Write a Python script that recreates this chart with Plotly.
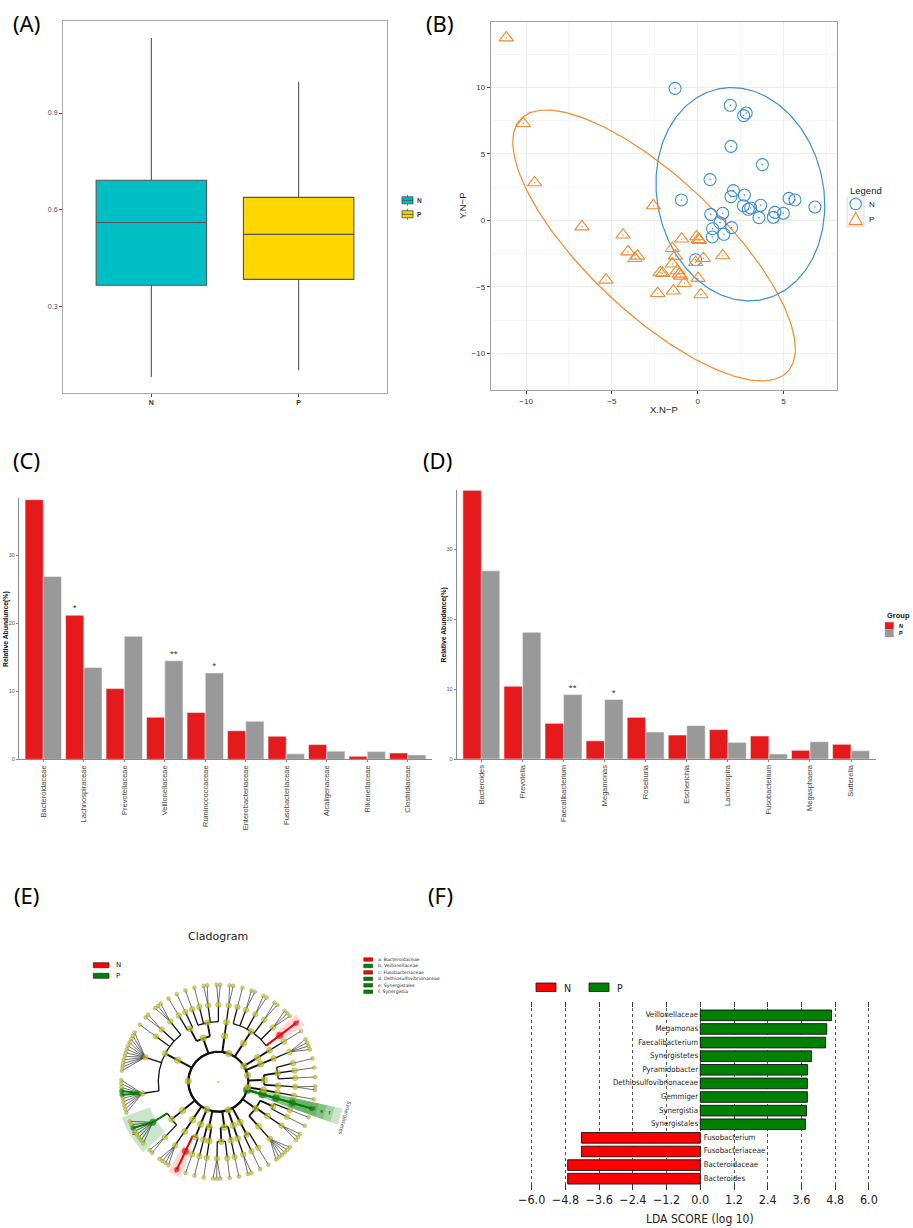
import numpy as np
import plotly.graph_objects as go

W, H = 913, 1228

# ---------------- (A) boxplot ----------------
box_groups = ["N", "P"]
box_lower = [0.080, 0.101]
box_q1 = [0.365, 0.383]
box_median = [0.560, 0.523]
box_q3 = [0.691, 0.638]
box_upper = [1.133, 0.997]

# ---------------- (B) ordination ----------------
pca_N_x = [-1.32, 1.90, 2.68, 2.83, 1.94, 3.77, 0.72, -0.95, 2.08, 1.94, 2.72, 5.32, 5.67, 6.83, 2.66,
           2.95, 3.09, 3.67, 3.57, 4.50, 4.41, 4.99, 0.76, 1.46, 1.30, 0.87, 1.98, 0.85, 1.53, -0.12]
pca_N_y = [9.92, 8.65, 7.87, 8.07, 5.56, 4.19, 3.06, 1.53, 2.23, 1.78, 1.90, 1.65, 1.53, 1.00, 1.10,
           0.83, 0.93, 1.13, 0.20, 0.60, 0.23, 0.53, 0.45, 0.53, -0.18, -0.63, -0.55, -1.25, -1.05, -2.96]
pca_P_x = [-11.15, -10.16, -9.50, -6.74, -4.35, -2.58, -4.06, -3.51, -3.65, -5.34, -2.33, -2.19, -2.04,
           -1.42, -1.48, -1.48, -1.30, -1.18, -1.07, -0.99, -0.78, -0.93, -0.06, 0.04, 0.10, 0.02, 0.19,
           0.33, -0.12, 1.46]
pca_P_y = [13.73, 7.29, 2.83, -0.48, -1.10, 1.10, -2.36, -2.68, -2.86, -4.49, -5.49, -3.93, -3.98,
           -5.31, -3.28, -2.11, -2.68, -3.78, -4.04, -4.19, -4.74, -1.40, -1.23, -1.43, -1.50, -4.36,
           -5.59, -2.86, -3.16, -2.66]

# ---------------- (C) families ----------------
fam_names = ["Bacteroidaceae", "Lachnospiraceae", "Prevotellaceae", "Veillonellaceae", "Ruminococcaceae",
             "Enterobacteriaceae", "Fusobacteriaceae", "Alcaligenaceae", "Rikenellaceae", "Clostridiaceae"]
fam_N = [38.2, 21.2, 10.4, 6.2, 6.9, 4.2, 3.4, 2.16, 0.44, 0.93]
fam_P = [26.9, 13.5, 18.1, 14.5, 12.7, 5.6, 0.8, 1.2, 1.13, 0.64]
fam_sig_N = ["", "*", "", "", "", "", "", "", "", ""]
fam_sig_P = ["", "", "", "**", "*", "", "", "", "", ""]

# ---------------- (D) genera ----------------
gen_names = ["Bacteroides", "Prevotella", "Faecalibacterium", "Megamonas", "Roseburia", "Escherichia",
             "Lachnospira", "Fusobacterium", "Megasphaera", "Sutterella"]
gen_N = [38.4, 10.4, 5.1, 2.6, 5.96, 3.43, 4.2, 3.29, 1.24, 2.1]
gen_P = [26.9, 18.1, 9.2, 8.5, 3.86, 4.77, 2.38, 0.72, 2.48, 1.19]
gen_sig_N = ["", "", "", "", "", "", "", "", "", ""]
gen_sig_P = ["", "", "**", "*", "", "", "", "", "", ""]

# ---------------- (F) LDA ----------------
lda_taxa = ["Veillonellaceae", "Megamonas", "Faecalibacterium", "Synergistetes", "Pyramidobacter",
            "Dethiosulfovibrionaceae", "Gemmiger", "Synergistia", "Synergistales", "Fusobacterium",
            "Fusobacteriaceae", "Bacteroidaceae", "Bacteroides"]
lda_score = [4.67, 4.50, 4.46, 3.96, 3.82, 3.81, 3.81, 3.78, 3.74, -4.23, -4.23, -4.72, -4.72]

# ---------------- (E) cladogram taxonomy ----------------
clado_tree = [
    ("Synergistetes", [("Synergistia", [("Synergistales", [("Dethiosulfovibrionaceae", ["Pyramidobacter"])])])]),
    ("Tenericutes", [("Mollicutes", [("Anaeroplasmatales", [("Anaeroplasmataceae", ["Anaeroplasma"])])])]),
    ("Actinobacteria", [
        ("Actinobacteria", [("Bifidobacteriales", [("Bifidobacteriaceae", ["Bifidobacterium", "Scardovia"])]),
                            ("Actinomycetales", [("Actinomycetaceae", ["Actinomyces"]),
                                                 ("Corynebacteriaceae", ["Corynebacterium"]),
                                                 ("Micrococcaceae", ["Rothia"])])]),
        ("Coriobacteriia", [("Coriobacteriales", [("Coriobacteriaceae", ["Collinsella", "Eggerthella",
                                                                          "Adlercreutzia", "Slackia"])])])]),
    ("Verrucomicrobia", [("Verrucomicrobiae", [("Verrucomicrobiales", [("Verrucomicrobiaceae", ["Akkermansia"])])])]),
    ("Bacteroidetes", [
        ("Bacteroidia", [("Bacteroidales", [("Bacteroidaceae", ["Bacteroides"]),
                                            ("Porphyromonadaceae", ["Parabacteroides", "Porphyromonas", "Tannerella"]),
                                            ("Prevotellaceae", ["Prevotella", "Paraprevotella"]),
                                            ("Rikenellaceae", ["Alistipes", "Rikenella"]),
                                            ("Odoribacteraceae", ["Odoribacter", "Butyricimonas"]),
                                            ("Barnesiellaceae", ["Barnesiella"])])]),
        ("Flavobacteriia", [("Flavobacteriales", [("Flavobacteriaceae", ["Flavobacterium", "Capnocytophaga"])])])]),
    ("Firmicutes", [
        ("Bacilli", [("Lactobacillales", [("Streptococcaceae", ["Streptococcus", "Lactococcus"]),
                                          ("Lactobacillaceae", ["Lactobacillus", "Pediococcus"]),
                                          ("Enterococcaceae", ["Enterococcus"]),
                                          ("Carnobacteriaceae", ["Granulicatella"])]),
                     ("Bacillales", [("Staphylococcaceae", ["Staphylococcus"]), ("Gemellaceae", ["Gemella"])])]),
        ("Clostridia", [("Clostridiales", [
            ("Clostridiaceae", ["Clostridium", "SMB53", "Sarcina"]),
            ("Peptostreptococcaceae", ["Peptostreptococcus", "Romboutsia"]),
            ("Christensenellaceae", ["Christensenella"]),
            ("Lachnospiraceae", ["Blautia", "Coprococcus", "Dorea", "Roseburia", "Lachnospira", "Anaerostipes",
                                 "Butyrivibrio", "Lachnoclostridium", "Fusicatenibacter", "Tyzzerella",
                                 "Moryella", "Shuttleworthia"]),
            ("Ruminococcaceae", ["Ruminococcus", "Oscillospira", "Subdoligranulum", "Faecalibacterium", "Gemmiger",
                                 "Anaerotruncus", "Butyricicoccus", "Ruminiclostridium", "Flavonifractor",
                                 "Anaerofilum"])])]),
        ("Negativicutes", [("Selenomonadales", [
            ("Veillonellaceae", ["Veillonella", "Megasphaera", "Megamonas", "Dialister", "Mitsuokella",
                                 "Allisonella", "Anaerovibrio", "Selenomonas"]),
            ("Acidaminococcaceae", ["Phascolarctobacterium", "Acidaminococcus"])])]),
        ("Erysipelotrichia", [("Erysipelotrichales", [("Erysipelotrichaceae", ["Holdemania", "Catenibacterium",
                                                                                "Coprobacillus", "Turicibacter"])])])]),
    ("Fusobacteria", [("Fusobacteriia", [("Fusobacteriales", [("Fusobacteriaceae", ["Fusobacterium"]),
                                                               ("Leptotrichiaceae", ["Leptotrichia"])])])]),
    ("Proteobacteria", [
        ("Alphaproteobacteria", [("Rhodospirillales", [("Rhodospirillaceae", ["Thalassospira"])]),
                                 ("Rhizobiales", [("Brucellaceae", ["Ochrobactrum"])])]),
        ("Betaproteobacteria", [("Burkholderiales", [("Alcaligenaceae", ["Sutterella", "Parasutterella", "Oligella"]),
                                                     ("Oxalobacteraceae", ["Oxalobacter"])]),
                                ("Neisseriales", [("Neisseriaceae", ["Neisseria"])])]),
        ("Deltaproteobacteria", [("Desulfovibrionales", [("Desulfovibrionaceae", ["Desulfovibrio", "Bilophila"])])]),
        ("Epsilonproteobacteria", [("Campylobacterales", [("Campylobacteraceae", ["Campylobacter"]),
                                                          ("Helicobacteraceae", ["Helicobacter"])])]),
        ("Gammaproteobacteria", [("Enterobacteriales", [("Enterobacteriaceae", ["Escherichia", "Klebsiella",
                                                                                "Enterobacter", "Citrobacter",
                                                                                "Proteus", "Serratia"])]),
                                 ("Pasteurellales", [("Pasteurellaceae", ["Haemophilus", "Actinobacillus",
                                                                          "Aggregatibacter"])]),
                                 ("Pseudomonadales", [("Moraxellaceae", ["Acinetobacter"]),
                                                      ("Pseudomonadaceae", ["Pseudomonas"])])])]),
]
clado_lettered = ["Bacteroidaceae", "Veillonellaceae", "Fusobacteriaceae", "Dethiosulfovibrionaceae",
                  "Synergistales", "Synergistia"]

# ======================================================================
def fx(p):
    return p / W


def fy(p):
    return 1 - p / H


RED = "#E41A1C"
GREY = "#999999"
NARROW = "DejaVu Sans Condensed, Liberation Sans Narrow, Arial Narrow, sans-serif"
fig = go.Figure()
shapes = []
annots = []


def ann(x, y, text, size, color="#000", family="Liberation Sans", xanchor="center", yanchor="middle",
        angle=0, **kw):
    annots.append(dict(x=fx(x), y=fy(y), xref="paper", yref="paper", text=text, showarrow=False,
                       font=dict(size=size, color=color, family=family), xanchor=xanchor, yanchor=yanchor,
                       textangle=angle, **kw))


def rect(x0, y0, x1, y1, fill, line="#000", lw=0.6):
    shapes.append(dict(type="rect", xref="paper", yref="paper", x0=fx(x0), x1=fx(x1), y0=fy(y1), y1=fy(y0),
                       fillcolor=fill, line=dict(color=line, width=lw)))


# ---------------- (A) ----------------
box_fill = ["#00BFC4", "#FFD700"]
for g, lo, q1, me, q3, hi, col in zip(box_groups, box_lower, box_q1, box_median, box_q3, box_upper, box_fill):
    fig.add_trace(go.Box(x=[g], q1=[q1], median=[me], q3=[q3], lowerfence=[lo], upperfence=[hi],
                         fillcolor=col, line=dict(color="#555555", width=1.1), whiskerwidth=0, width=0.75,
                         boxpoints=False, xaxis="x", yaxis="y", showlegend=False, hoverinfo="skip"))
for i, (g, col) in enumerate(zip(box_groups, box_fill)):
    yc = 200.3 + i * 14
    shapes.append(dict(type="line", xref="paper", yref="paper", x0=fx(407.5), x1=fx(407.5), y0=fy(yc - 5.5),
                       y1=fy(yc + 5.5), line=dict(color="#555", width=0.8)))
    rect(402, yc - 3.5, 413, yc + 3.5, col, "#444", 0.8)
    shapes.append(dict(type="line", xref="paper", yref="paper", x0=fx(402), x1=fx(413), y0=fy(yc), y1=fy(yc),
                       line=dict(color="#444", width=0.8)))
    ann(414.5, yc, "<b>%s</b>" % g, 6.5, "#333", xanchor="left")

# ---------------- (B) ----------------
BLUE = "#3C8DD4"
ORANGE = "#F5892E"


def conf_ellipse(xs, ys, level=0.95, npts=240):
    pts = np.column_stack([xs, ys])
    mu = pts.mean(axis=0)
    cov = np.cov(pts, rowvar=False)
    d = len(xs) - 1
    fq = (d / 2.0) * ((1 - level) ** (-2.0 / d) - 1)  # F(2, d) quantile
    r = np.sqrt(2 * fq)
    t = np.linspace(0, 2 * np.pi, npts)
    L = np.linalg.cholesky(cov)
    e = mu[:, None] + r * (L @ np.vstack([np.cos(t), np.sin(t)]))
    return e[0], e[1]


for xs, ys, col in [(pca_N_x, pca_N_y, BLUE), (pca_P_x, pca_P_y, ORANGE)]:
    ex, ey = conf_ellipse(xs, ys)
    fig.add_trace(go.Scatter(x=ex, y=ey, mode="lines", line=dict(color=col, width=1.2), xaxis="x2", yaxis="y2",
                             showlegend=False, hoverinfo="skip"))
fig.add_trace(go.Scatter(x=pca_N_x, y=pca_N_y, mode="markers", xaxis="x2", yaxis="y2", showlegend=False,
                         marker=dict(symbol="circle-open", size=12, color=BLUE, line=dict(width=1.1))))
fig.add_trace(go.Scatter(x=pca_P_x, y=pca_P_y, mode="markers", xaxis="x2", yaxis="y2", showlegend=False,
                         marker=dict(symbol="triangle-up-open", size=12.5, color=ORANGE, line=dict(width=1.1))))
fig.add_trace(go.Scatter(x=pca_N_x + pca_P_x, y=pca_N_y + pca_P_y, mode="markers", xaxis="x2", yaxis="y2",
                         showlegend=False, marker=dict(size=1.6, color=[BLUE] * len(pca_N_x) + [ORANGE] * len(pca_P_x))))
ann(847.5, 190, "Legend", 9.5, "#222", xanchor="left")
rect(847, 197, 864, 227, "#f7f7f7", "#d6d6d6", 0.8)
shapes.append(dict(type="circle", xref="paper", yref="paper", x0=fx(850), x1=fx(861.4), y0=fy(209.7),
                   y1=fy(198.3), fillcolor="rgba(0,0,0,0)", line=dict(color=BLUE, width=1.1)))
tri = "M %f,%f L %f,%f L %f,%f Z" % (fx(855.7), fy(212.3), fx(849), fy(224.6), fx(862.4), fy(224.6))
shapes.append(dict(type="path", xref="paper", yref="paper", path=tri, fillcolor="rgba(0,0,0,0)",
                   line=dict(color=ORANGE, width=1.1)))
ann(867, 204.5, "N", 8, "#222", xanchor="left")
ann(867, 219.5, "P", 8, "#222", xanchor="left")
ann(664, 410, "X.N−P", 9.5, "#222")
ann(463, 206, "Y.N−P", 9.5, "#222", angle=-90)

# ---------------- (C) & (D) ----------------
for names, vN, vP, sN, sP, xa, ya in [(fam_names, fam_N, fam_P, fam_sig_N, fam_sig_P, "x3", "y3"),
                                      (gen_names, gen_N, gen_P, gen_sig_N, gen_sig_P, "x4", "y4")]:
    fig.add_trace(go.Bar(x=names, y=vN, name="N", marker=dict(color=RED, line=dict(color="#f4f4f4", width=0.6)),
                         text=sN, textposition="outside", textfont=dict(size=7, color="#111"), cliponaxis=False,
                         xaxis=xa, yaxis=ya, showlegend=False, offsetgroup="N", hoverinfo="skip"))
    fig.add_trace(go.Bar(x=names, y=vP, name="P", marker=dict(color=GREY, line=dict(color="#f4f4f4", width=0.6)),
                         text=sP, textposition="outside", textfont=dict(size=7, color="#111"), cliponaxis=False,
                         xaxis=xa, yaxis=ya, showlegend=False, offsetgroup="P", hoverinfo="skip"))
ann(6, 629, "<b>Relative Abundunce(%)</b>", 6.8, "#111", angle=-90)
ann(443.5, 625, "<b>Relative Abundance(%)</b>", 6.8, "#111", angle=-90)
ann(884.5, 615, "<b>Group</b>", 7.5, "#111", xanchor="left")
rect(885, 622.3, 893.5, 629.3, RED, RED, 0.3)
rect(885, 630, 893.5, 637, GREY, GREY, 0.3)
ann(896.5, 626, "<b>N</b>", 5.5, "#111", xanchor="left")
ann(896.5, 633.5, "<b>P</b>", 5.5, "#111", xanchor="left")

# ---------------- (F) LDA ----------------
lda_pos = list(range(len(lda_taxa) - 1, -1, -1))
lda_cols = ["#008000" if s > 0 else "#FF0000" for s in lda_score]
fig.add_trace(go.Bar(x=lda_score, y=lda_pos, orientation="h", width=0.78,
                     marker=dict(color=lda_cols, line=dict(color="#111", width=0.9)),
                     xaxis="x6", yaxis="y6", showlegend=False, hoverinfo="skip"))
fig.add_trace(go.Scatter(x=[-0.08 if s > 0 else 0.12 for s in lda_score], y=lda_pos, mode="text", text=lda_taxa,
                         textposition=["middle left" if s > 0 else "middle right" for s in lda_score],
                         textfont=dict(size=7.8, color="#222", family=NARROW),
                         xaxis="x6", yaxis="y6", showlegend=False, hoverinfo="skip", cliponaxis=False))
rect(536, 983, 556, 991.5, "#FF0000", "#111", 0.8)
rect(589, 983, 609, 991.5, "#008000", "#111", 0.8)
ann(562, 987.5, "N", 10.5, "#222", family=NARROW, xanchor="left")
ann(615, 987.5, "P", 10.5, "#222", family=NARROW, xanchor="left")
ann(700, 1219, "LDA SCORE (log 10)", 12, "#222", family=NARROW)

# ---------------- (E) cladogram ----------------
lda_class = {t: ("N" if s < 0 else "P") for t, s in zip(lda_taxa, lda_score)}
HL = {"N": "#FF0000", "P": "#008000"}
IN_FAM, BETWEEN = 0.55, 1.4
state = {"u": None, "fam": None}


def build(item, depth, parent=None):
    if isinstance(item, str):
        if state["u"] is None:
            state["u"] = 0.0
        elif state["fam"] == parent:
            state["u"] += IN_FAM
        else:
            state["u"] += BETWEEN
        state["fam"] = parent
        return dict(name=item, depth=depth, u=state["u"], children=[])
    name, kids = item
    return dict(name=name, depth=depth, children=[build(k, depth + 1, name) for k in kids])


root = dict(name="Bacteria", depth=0, children=[build(p, 1) for p in clado_tree])
U = state["u"] + BETWEEN
deg_per_u = 360.0 / U
start = -16.0


def assign(node):
    if not node["children"]:
        node["angle"] = start + node["u"] * deg_per_u
        node["lo"] = node["hi"] = node["angle"]
        return
    for c in node["children"]:
        assign(c)
    node["angle"] = float(np.mean([c["angle"] for c in node["children"]]))
    node["lo"] = node["children"][0]["lo"]
    node["hi"] = node["children"][-1]["hi"]


assign(root)
R = {0: 0, 1: 30, 2: 46, 3: 60, 4: 77, 5: 97}
lw_by_depth = {0: 2.2, 1: 2.0, 2: 1.8, 3: 1.3, 4: 0.6}
node_size = {1: 6.5, 2: 6.5, 3: 6, 4: 5.5, 5: 3.8}


def pol(r, a):
    t = np.radians(a)
    return r * np.cos(t), r * np.sin(t)


lines = {d: ([], []) for d in lw_by_depth}
col_lines = {"N": ([], []), "P": ([], [])}
all_nodes = []


def walk(node):
    if not node["children"]:
        return
    d = node["depth"]
    ra = R[max(d, 1)]
    lx, ly = lines[d]
    if d == 0:
        t = np.radians(np.linspace(0, 360, 361))
        lx += list(ra * np.cos(t)) + [None]
        ly += list(ra * np.sin(t)) + [None]
    elif d < 4 and len(node["children"]) > 1:
        t = np.radians(np.linspace(node["children"][0]["angle"], node["children"][-1]["angle"], 60))
        lx += list(ra * np.cos(t)) + [None]
        ly += list(ra * np.sin(t)) + [None]
    for c in node["children"]:
        rc = R[c["depth"]]
        if d == 4:
            x0, y0 = pol(ra, node["angle"])
        else:
            x0, y0 = pol(ra, c["angle"])
        x1, y1 = pol(rc, c["angle"])
        if rc > ra:
            lx += [x0, x1, None]
            ly += [y0, y1, None]
            if c["name"] in lda_class:
                cx, cy = col_lines[lda_class[c["name"]]]
                cx += [x0, x1, None]
                cy += [y0, y1, None]
        all_nodes.append(c)
        walk(c)


walk(root)

for nd in sorted(all_nodes, key=lambda n: n["depth"]):
    if nd["name"] in lda_class and nd["children"]:
        d = nd["depth"]
        pad = 0.7 * deg_per_u + 1.0
        a0, a1 = nd["lo"] - pad, nd["hi"] + pad
        r_in = R[d] - 4
        r_out = R[5] + 6 + (4 - d) * 8
        t = np.linspace(a0, a1, 30)
        xs = list(r_in * np.cos(np.radians(t))) + list(r_out * np.cos(np.radians(t[::-1])))
        ys = list(r_in * np.sin(np.radians(t))) + list(r_out * np.sin(np.radians(t[::-1])))
        fc = "rgba(255,0,0,0.16)" if lda_class[nd["name"]] == "N" else "rgba(0,128,0,0.2)"
        fig.add_trace(go.Scatter(x=xs + [xs[0]], y=ys + [ys[0]], mode="lines", fill="toself", fillcolor=fc,
                                 line=dict(width=0), xaxis="x5", yaxis="y5", showlegend=False, hoverinfo="skip"))
        am = (nd["lo"] + nd["hi"]) / 2
        if nd["name"] in clado_lettered:
            lx_, ly_ = pol(r_out - 3.5, am)
            fig.add_trace(go.Scatter(x=[lx_], y=[ly_], mode="text",
                                     text=[chr(97 + clado_lettered.index(nd["name"]))],
                                     textfont=dict(size=5, color="#222"), xaxis="x5", yaxis="y5",
                                     showlegend=False, hoverinfo="skip", cliponaxis=False))
        elif d == 1:
            px_, py_ = pol(r_out + 4, am)
            annots.append(dict(x=px_, y=py_, xref="x5", yref="y5", text=nd["name"], showarrow=False,
                               font=dict(size=5, color="#333", family="DejaVu Sans"), textangle=90 - am))

for d, (lx, ly) in lines.items():
    fig.add_trace(go.Scatter(x=lx, y=ly, mode="lines", line=dict(color="#111", width=lw_by_depth[d]),
                             xaxis="x5", yaxis="y5", showlegend=False, hoverinfo="skip"))
for k, (cx, cy) in col_lines.items():
    fig.add_trace(go.Scatter(x=cx, y=cy, mode="lines", line=dict(color=HL[k], width=2.0),
                             xaxis="x5", yaxis="y5", showlegend=False, hoverinfo="skip"))
nx, ny, ns, nc = [], [], [], []
for nd in all_nodes:
    x, y = pol(R[nd["depth"]], nd["angle"])
    nx.append(x)
    ny.append(y)
    hl = nd["name"] in lda_class
    ns.append(node_size[nd["depth"]] + (1.2 if hl else 0))
    nc.append(HL[lda_class[nd["name"]]] if hl else "#C8C814")
fig.add_trace(go.Scatter(x=nx, y=ny, mode="markers", xaxis="x5", yaxis="y5", showlegend=False, hoverinfo="skip",
                         marker=dict(size=ns, color=nc, line=dict(color="#555", width=0.4))))
fig.add_trace(go.Scatter(x=[0], y=[0], mode="markers", xaxis="x5", yaxis="y5", showlegend=False, hoverinfo="skip",
                         marker=dict(size=2, color="#C8C814")))
ann(218, 936, "Cladogram", 11, "#222", family="DejaVu Sans")
rect(93.3, 962.7, 109, 967.7, "#FF0000", "#111", 0.6)
rect(93.3, 973.3, 109, 978.3, "#008000", "#111", 0.6)
ann(114, 965.2, "N", 7, "#222", family="DejaVu Sans", xanchor="left")
ann(114, 975.8, "P", 7, "#222", family="DejaVu Sans", xanchor="left")
for i, tx in enumerate(clado_lettered):
    yc = 959.5 + i * 6.45
    rect(363.7, yc - 1.8, 372.7, yc + 1.8, HL[lda_class[tx]], "#111", 0.4)
    ann(375.5, yc, "%s: %s" % (chr(97 + i), tx), 4.6, "#222", family="DejaVu Sans", xanchor="left")

# ---------------- panel labels ----------------
for lab, x, y in [("(A)", 26, 23), ("(B)", 440, 23), ("(C)", 26, 460), ("(D)", 437, 460),
                  ("(E)", 26, 895), ("(F)", 440, 895)]:
    ann(x, y, lab, 22, "#000", family="Noto Sans")

# ---------------- layout ----------------
tf_small = dict(size=5.5, color="#555", family="Liberation Sans")
tf_cat = dict(size=7.5, color="#444", family="Liberation Sans")
bar_x = dict(type="category", range=[-0.6, 9.6], showline=True, linecolor="#8a8a8a", linewidth=1, ticks="outside",
             ticklen=2, tickcolor="#8a8a8a", tickangle=-90, tickfont=tf_cat, showgrid=False, zeroline=False)
bar_y = dict(range=[0, 38.4], tickvals=[0, 10, 20, 30], showline=True, linecolor="#8a8a8a", linewidth=1,
             ticks="outside", ticklen=2, tickcolor="#8a8a8a", tickfont=tf_small, showgrid=False, zeroline=False)
fig.update_layout(
    width=W, height=H, margin=dict(l=0, r=0, t=0, b=0), template="none", paper_bgcolor="white",
    plot_bgcolor="white", hovermode=False, barmode="group", bargap=0.1, bargroupgap=0.0,
    shapes=shapes, annotations=annots,
    xaxis=dict(domain=[fx(63), fx(387)], anchor="y", type="category", range=[-0.6, 1.6], tickvals=box_groups,
               ticktext=["<b>%s</b>" % g for g in box_groups], showline=True, mirror=True, linecolor="#a8a8a8",
               linewidth=1, ticks="outside", ticklen=3, tickcolor="#555",
               tickfont=dict(size=7, color="#333", family="Liberation Sans"), showgrid=False, zeroline=False),
    yaxis=dict(domain=[fy(393), fy(21)], anchor="x", range=[0.03, 1.186], tickvals=[0.3, 0.6, 0.9],
               ticktext=["0.3", "0.6", "0.9"], showline=True, mirror=True, linecolor="#a8a8a8", linewidth=1,
               ticks="outside", ticklen=3, tickcolor="#555",
               tickfont=dict(size=7, color="#4d4d4d", family="Liberation Sans"), showgrid=False, zeroline=False),
    xaxis2=dict(domain=[fx(490.7), fx(836.7)], anchor="y2", range=[-12.06, 8.1], tickvals=[-10, -5, 0, 5],
                showline=True, mirror=True, linecolor="#a0a0a0", linewidth=1, ticks="outside", ticklen=3,
                tickcolor="#444", tickfont=dict(size=8, color="#333", family="Liberation Sans"),
                showgrid=True, gridcolor="#ebebeb", gridwidth=1, zeroline=False,
                minor=dict(dtick=2.5, tick0=0, showgrid=True, gridcolor="#f5f5f5", gridwidth=0.6)),
    yaxis2=dict(domain=[fy(390), fy(22.3)], anchor="x2", range=[-12.76, 14.89], tickvals=[-10, -5, 0, 5, 10],
                showline=True, mirror=True, linecolor="#a0a0a0", linewidth=1, ticks="outside", ticklen=3,
                tickcolor="#444", tickfont=dict(size=8, color="#333", family="Liberation Sans"),
                showgrid=True, gridcolor="#ebebeb", gridwidth=1, zeroline=False,
                minor=dict(dtick=2.5, tick0=0, showgrid=True, gridcolor="#f5f5f5", gridwidth=0.6)),
    xaxis3=dict(domain=[fx(19), fx(432)], anchor="y3", **bar_x),
    yaxis3=dict(domain=[fy(759.3), fy(498.3)], anchor="x3", **bar_y),
    xaxis4=dict(domain=[fx(456.7), fx(875.7)], anchor="y4", **bar_x),
    yaxis4=dict(domain=[fy(759), fy(490.3)], anchor="x4", **bar_y),
    xaxis5=dict(domain=[fx(88.3), fx(348.3)], anchor="y5", range=[-130, 130], visible=False),
    yaxis5=dict(domain=[fy(1211.7), fy(951.7)], anchor="x5", range=[-130, 130], visible=False),
    xaxis6=dict(domain=[fx(530.3), fx(870.3)], anchor="y6", range=[-6.05, 6.05],
                tickvals=[round(-6 + 1.2 * i, 1) for i in range(11)], tickformat=".1f", showline=False,
                ticks="inside", ticklen=5, tickcolor="#333", mirror="ticks", showgrid=True, griddash="dot",
                gridcolor="#555", gridwidth=0.8, zeroline=False,
                tickfont=dict(size=12.5, color="#222", family=NARROW)),
    yaxis6=dict(domain=[fy(1190), fy(1002)], anchor="x6", range=[-0.83, 12.98], visible=False),
)
fig.write_html("out.html", config={"displayModeBar": False},
               post_script="document.body.style.margin='0';document.body.style.overflow='hidden';")
